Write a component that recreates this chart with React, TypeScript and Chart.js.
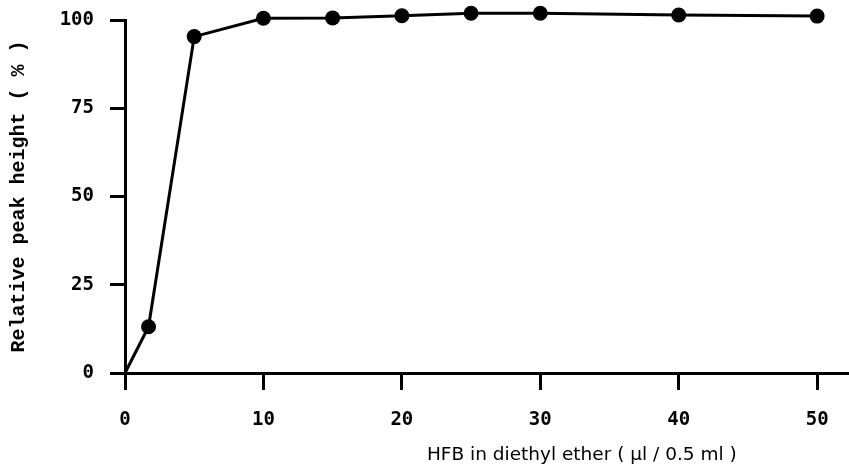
import React, { useEffect, useRef } from "react";
import { Chart, registerables } from "chart.js";

Chart.register(...registerables);

const xValues = [0, 1.7, 5, 10, 15, 20, 25, 30, 40, 50];
const yValues = [0, 13.1, 95.3, 100.5, 100.6, 101.2, 101.9, 101.9, 101.4, 101.1];
const pointRadii = [0, 7.5, 7.5, 7.5, 7.5, 7.5, 7.5, 7.5, 7.5, 7.5];
const xTicks = [0, 10, 20, 30, 40, 50];
const yTicks = [0, 25, 50, 75, 100];
const xTitle = "HFB in diethyl ether ( µl / 0.5 ml )";
const yTitle = "Relative peak height ( % )";

const xTitlePlugin = {
  id: "xTitlePlugin",
  afterDraw(chart: any) {
    const ctx = chart.ctx;
    const sx = chart.scales.x;
    const cx = sx.getPixelForValue(33.0);
    ctx.save();
    ctx.font = "18.5px 'DejaVu Sans'";
    ctx.fillStyle = "#000";
    ctx.textAlign = "center";
    ctx.textBaseline = "middle";
    ctx.fillText(xTitle, cx, sx.bottom - 13);
    ctx.restore();
  },
};

export default function App() {
  const ref = useRef<HTMLCanvasElement>(null);
  useEffect(() => {
    if (!ref.current) return;
    const chart = new Chart(ref.current, {
      type: "line",
      data: {
        datasets: [
          {
            data: xValues.map((x, i) => ({ x, y: yValues[i] })),
            borderColor: "#000",
            backgroundColor: "#000",
            borderWidth: 3,
            pointRadius: pointRadii,
            pointBackgroundColor: "#000",
            pointBorderColor: "#000",
            pointBorderWidth: 0,
            tension: 0,
            clip: false,
          } as any,
        ],
      },
      options: {
        animation: false,
        responsive: false,
        layout: { autoPadding: false, padding: { left: 0, top: 20, right: 0, bottom: 0 } },
        plugins: { legend: { display: false }, tooltip: { enabled: false } },
        scales: {
          x: {
            type: "linear",
            min: 0,
            max: 52.3,
            afterBuildTicks: (s: any) => {
              s.ticks = xTicks.map((v) => ({ value: v }));
            },
            afterFit: (s: any) => {
              s.height = 95;
              s.paddingLeft = 0;
              s.paddingRight = 0;
            },
            grid: {
              drawOnChartArea: false,
              color: "#000",
              lineWidth: 3,
              tickLength: 17,
            },
            border: { display: true, color: "#000", width: 3 },
            ticks: {
              color: "#000",
              padding: 19,
              maxRotation: 0,
              font: { family: "'DejaVu Sans Mono'", size: 19, weight: "bold" },
            },
          },
          y: {
            type: "linear",
            min: 0,
            max: 100,
            afterBuildTicks: (s: any) => {
              s.ticks = yTicks.map((v) => ({ value: v }));
            },
            afterFit: (s: any) => {
              s.width = 125;
              s.paddingTop = 0;
              s.paddingBottom = 0;
            },
            grid: {
              drawOnChartArea: false,
              color: "#000",
              lineWidth: 3,
              tickLength: 15,
            },
            border: { display: true, color: "#000", width: 3 },
            ticks: {
              color: "#000",
              padding: 16,
              font: { family: "'DejaVu Sans Mono'", size: 19, weight: "bold" },
            },
            title: {
              display: true,
              text: yTitle,
              color: "#000",
              padding: { top: 7, bottom: 0 },
              font: { family: "'Liberation Mono'", size: 20, weight: "bold" },
            },
          },
        },
      },
      plugins: [xTitlePlugin],
    });
    return () => chart.destroy();
  }, []);
  return (
    <div style={{ position: "absolute", left: 0, top: 0, width: 849, height: 468, background: "#fff", overflow: "hidden" }}>
      <canvas ref={ref} width={849} height={468} style={{ width: 849, height: 468, display: "block" }} />
    </div>
  );
}
